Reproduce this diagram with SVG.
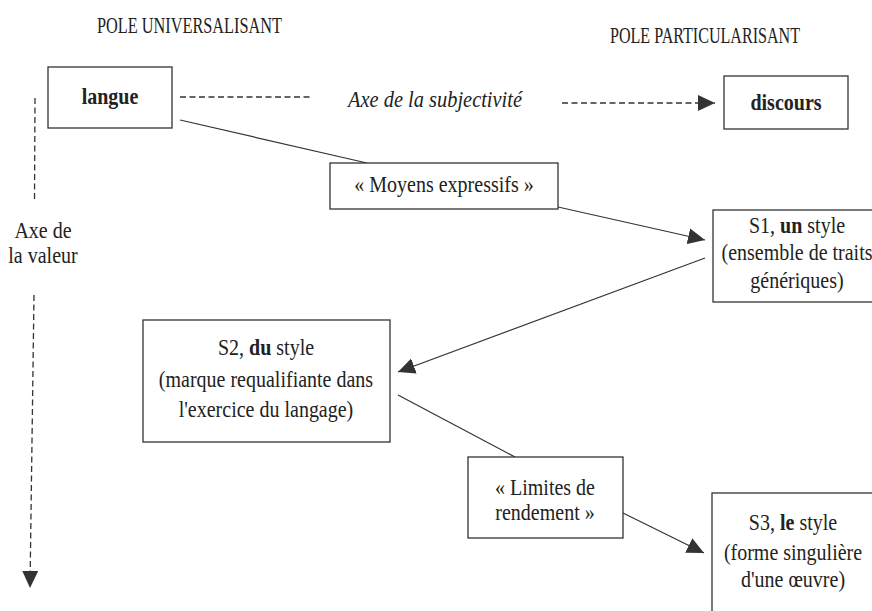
<svg xmlns="http://www.w3.org/2000/svg" width="872" height="611" viewBox="0 0 872 611" font-family="'Liberation Serif', 'Times New Roman', Times, serif">
<style>
text{font-family:'Liberation Serif','Times New Roman',Times,serif;font-size:20px;fill:#222;}
.mid{text-anchor:middle;}
.hdr{font-size:19px;}
.b{font-weight:bold;}
.it{font-style:italic;}
.box{fill:#fff;stroke:#333;stroke-width:1.3;}
.ln{fill:none;stroke:#333;stroke-width:1.2;}
.dash{fill:none;stroke:#333;stroke-width:1.3;stroke-dasharray:6 3.5;}
</style>
<defs>
<marker id="ah" markerUnits="userSpaceOnUse" markerWidth="18" markerHeight="18" viewBox="0 0 18 18" refX="17" refY="9" orient="auto">
<path d="M0,1 L17,9 L0,17 Z" fill="#333"/>
</marker>
</defs>
<rect width="872" height="611" fill="#fff"/>

<g id="headers">
<text class="hdr" transform="translate(97 33) scale(1 1.2)" textLength="185" lengthAdjust="spacingAndGlyphs">POLE UNIVERSALISANT</text>
<text class="hdr" transform="translate(610 43) scale(1 1.2)" textLength="190" lengthAdjust="spacingAndGlyphs">POLE PARTICULARISANT</text>
</g>

<g id="connectors">
<line class="dash" x1="180" y1="97" x2="312" y2="97"/>
<line class="dash" x1="562" y1="103" x2="715" y2="103" marker-end="url(#ah)"/>
<line class="dash" x1="35" y1="98" x2="34.5" y2="200"/>
<line class="dash" x1="34" y1="295" x2="30" y2="588" marker-end="url(#ah)"/>
<line class="ln" x1="180" y1="120" x2="367" y2="163"/>
<line class="ln" x1="558" y1="207" x2="705" y2="240" marker-end="url(#ah)"/>
<line class="ln" x1="705" y1="258" x2="398" y2="372" marker-end="url(#ah)"/>
<line class="ln" x1="398" y1="395" x2="515" y2="457"/>
<line class="ln" x1="623" y1="513" x2="704" y2="553" marker-end="url(#ah)"/>
</g>

<g id="axe-subjectivite">
<text class="it" transform="translate(348 107) scale(1 1.15)" textLength="174" lengthAdjust="spacingAndGlyphs">Axe de la subjectivité</text>
</g>

<g id="axe-valeur">
<text class="mid" transform="translate(43 238) scale(1 1.15)">Axe de</text>
<text class="mid" transform="translate(43 263) scale(1 1.15)">la valeur</text>
</g>

<g id="langue">
<rect class="box" x="48" y="67" width="124" height="61"/>
<text class="mid b" transform="translate(110 104) scale(1 1.15)">langue</text>
</g>

<g id="discours">
<rect class="box" x="724" y="76" width="124" height="53"/>
<text class="mid b" transform="translate(786 110) scale(1 1.15)">discours</text>
</g>

<g id="moyens">
<rect class="box" x="330" y="163" width="228" height="46"/>
<text class="mid" transform="translate(444 192) scale(1 1.15)">« Moyens expressifs »</text>
</g>

<g id="s1">
<rect class="box" x="713" y="210" width="200" height="92"/>
<text class="mid" transform="translate(797 233) scale(1 1.15)">S1, <tspan class="b">un</tspan> style</text>
<text class="mid" transform="translate(797 260) scale(1 1.15)">(ensemble de traits</text>
<text class="mid" transform="translate(797 288) scale(1 1.15)">génériques)</text>
</g>

<g id="s2">
<rect class="box" x="143" y="320" width="247" height="122"/>
<text class="mid" transform="translate(266 355) scale(1 1.15)">S2, <tspan class="b">du</tspan> style</text>
<text class="mid" transform="translate(266 387) scale(1 1.15)">(marque requalifiante dans</text>
<text class="mid" transform="translate(266 417) scale(1 1.15)">l'exercice du langage)</text>
</g>

<g id="limites">
<rect class="box" x="468" y="457" width="155" height="81"/>
<text class="mid" transform="translate(545 495) scale(1 1.15)">« Limites de</text>
<text class="mid" transform="translate(545 520) scale(1 1.15)">rendement »</text>
</g>

<g id="s3">
<rect class="box" x="712" y="493" width="200" height="160"/>
<text class="mid" transform="translate(793 530) scale(1 1.15)">S3, <tspan class="b">le</tspan> style</text>
<text class="mid" transform="translate(793 560) scale(1 1.15)">(forme singulière</text>
<text class="mid" transform="translate(793 587) scale(1 1.15)">d'une œuvre)</text>
</g>
</svg>
